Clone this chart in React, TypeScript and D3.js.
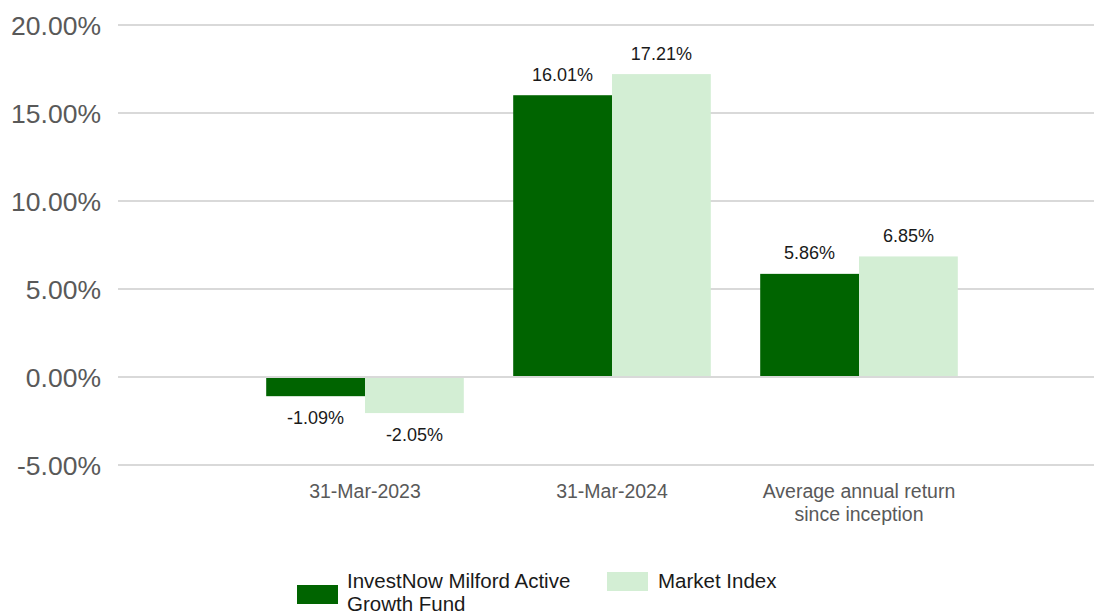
import React from "react";
import * as d3 from "d3";

const categories: string[][] = [["31-Mar-2023"], ["31-Mar-2024"], ["Average annual return", "since inception"]];
const seriesNames: string[] = ["InvestNow Milford Active Growth Fund", "Market Index"];
const fundValues: number[] = [-1.09, 16.01, 5.86];
const indexValues: number[] = [-2.05, 17.21, 6.85];
const yTicks: number[] = [-5, 0, 5, 10, 15, 20];

const W = 1094;
const H = 615;
const colors = ["#006400", "#d3eed4"];

export default function App() {
  const y = d3.scaleLinear().domain([-5, 20]).range([465, 25]);
  const x = d3
    .scaleBand<number>()
    .domain(d3.range(categories.length))
    .range([241.5, 982.5])
    .paddingInner(0.2)
    .paddingOuter(0.1);
  const xs = d3.scaleBand<number>().domain([0, 1]).range([0, x.bandwidth()]);
  const series = [fundValues, indexValues];
  const fmt = (v: number) => v.toFixed(2) + "%";

  return (
    <svg width={W} height={H} style={{ position: "absolute", left: 0, top: 0, fontFamily: "'Liberation Sans', Arial, sans-serif" }}>
      <rect width={W} height={H} fill="#fff" />
      {yTicks.map((t) => (
        <g key={t}>
          <line x1={118} x2={W} y1={y(t)} y2={y(t)} stroke="#d9d9d9" strokeWidth={2} />
          <text x={101} y={y(t)} dy="0.36em" textAnchor="end" fontSize={26.5} fill="#595959">
            {t.toFixed(2)}%
          </text>
        </g>
      ))}
      {series.map((vals, si) =>
        vals.map((v, ci) => {
          const bx = (x(ci) as number) + (xs(si) as number);
          const bw = xs.bandwidth();
          const top = y(Math.max(0, v));
          const bot = y(Math.min(0, v));
          return (
            <g key={si + "-" + ci}>
              <rect x={bx} y={top} width={bw} height={bot - top} fill={colors[si]} />
              <text
                x={bx + bw / 2}
                y={v >= 0 ? top - 21 : bot + 21}
                dy="0.36em"
                textAnchor="middle"
                fontSize={18}
                fill="#1a1a1a"
              >
                {fmt(v)}
              </text>
            </g>
          );
        })
      )}
      <line x1={118} x2={W} y1={y(0)} y2={y(0)} stroke="#d9d9d9" strokeWidth={2} />
      {categories.map((lines, ci) => (
        <text key={ci} textAnchor="middle" fontSize={19.5} fill="#595959">
          {lines.map((l, li) => (
            <tspan key={li} x={(x(ci) as number) + x.bandwidth() / 2} y={491 + li * 23} dy="0.36em">
              {l}
            </tspan>
          ))}
        </text>
      ))}
      <g>
        <rect x={297} y={585} width={41} height={19} fill={colors[0]} />
        <text fontSize={20.5} fill="#1a1a1a">
          <tspan x={347} y={581} dy="0.36em">InvestNow Milford Active</tspan>
          <tspan x={347} y={604} dy="0.36em">Growth Fund</tspan>
        </text>
        <rect x={607} y={572} width={41} height={19} fill={colors[1]} />
        <text x={658} y={581} dy="0.36em" fontSize={20.5} fill="#1a1a1a">
          {seriesNames[1]}
        </text>
      </g>
    </svg>
  );
}
